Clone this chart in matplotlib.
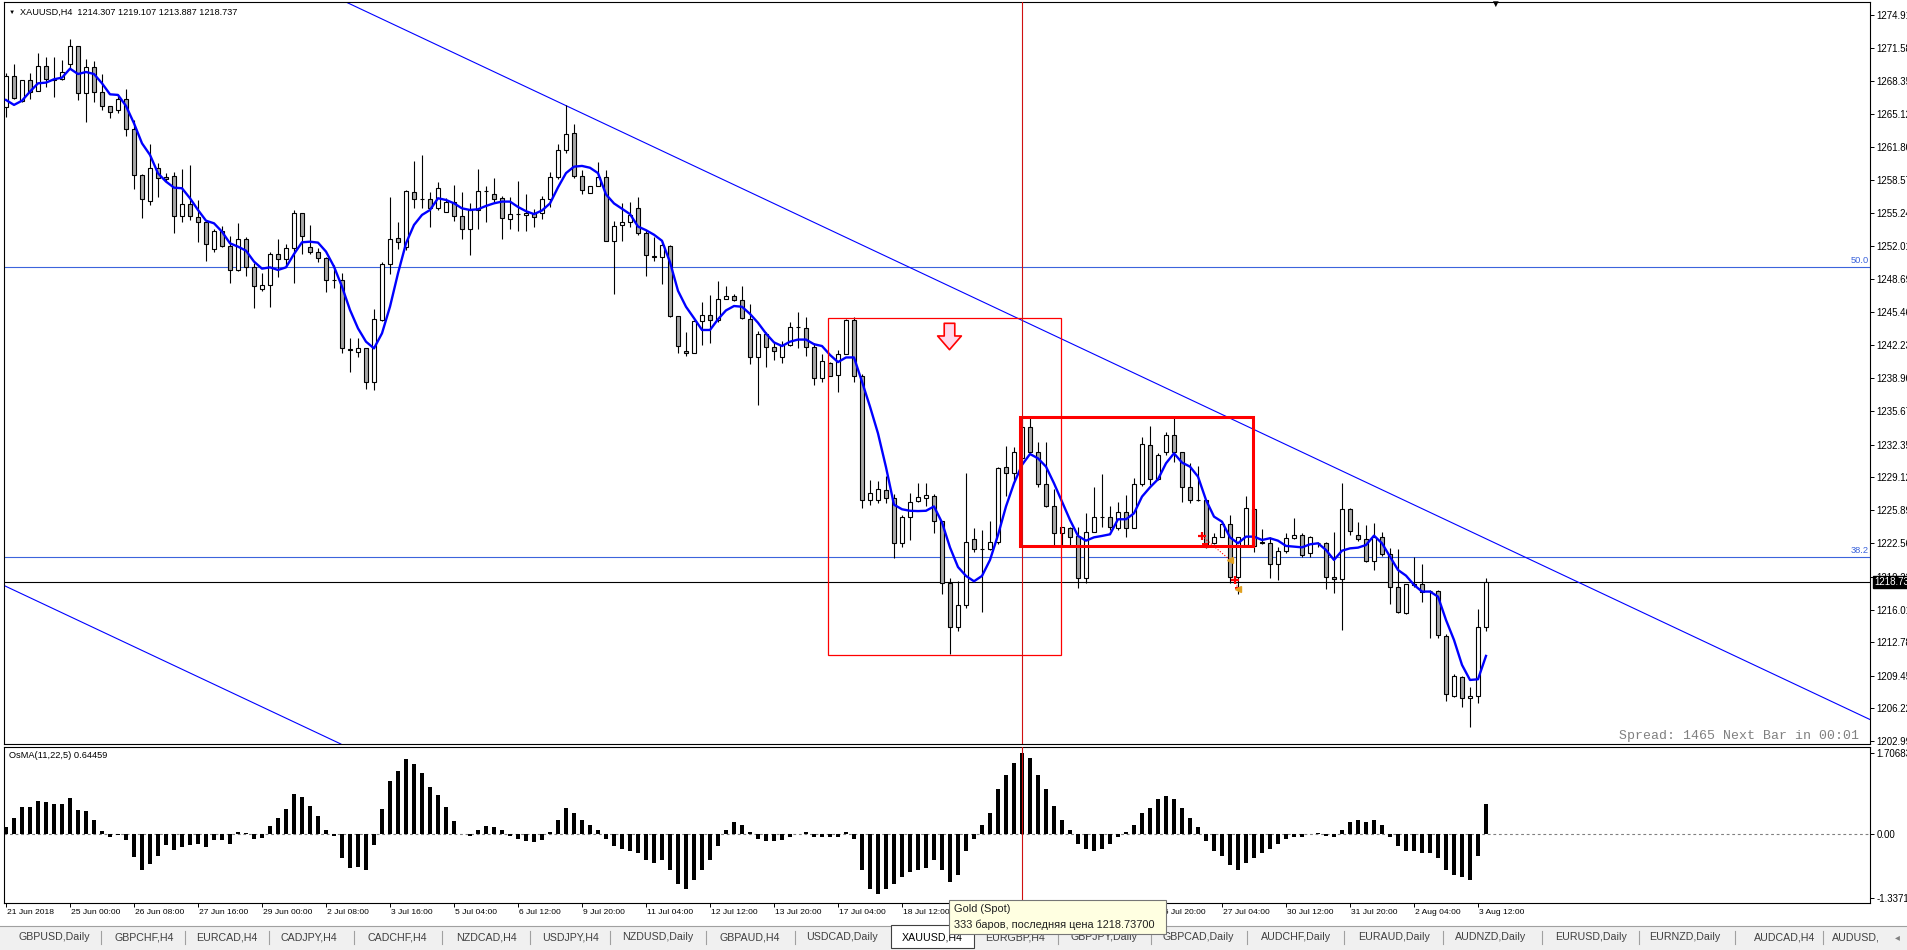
import matplotlib
matplotlib.use("Agg")
import matplotlib.pyplot as plt
import numpy as np
from matplotlib.path import Path
from matplotlib.patches import Rectangle
from matplotlib.lines import Line2D
from matplotlib.transforms import ScaledTranslation, blended_transform_factory

plt.rcParams['font.family'] = ['Liberation Sans', 'DejaVu Sans']

# ---- XAUUSD H4 candles (21 Jun 16:00 .. 3 Aug 16:00) ----
opens = [
    1265.73, 1268.84, 1266.39, 1268.44, 1267.32, 1269.83, 1268.51, 1268.51, 1269.99, 1271.81,
    1267.12, 1269.69, 1267.22, 1265.83, 1265.44, 1266.53, 1263.56, 1259.00, 1256.43, 1259.70,
    1258.87, 1258.94, 1254.98, 1256.16, 1254.91, 1254.35, 1251.68, 1253.49, 1252.01, 1249.63,
    1252.67, 1249.96, 1247.72, 1248.11, 1251.18, 1250.69, 1251.78, 1255.27, 1251.87, 1251.38,
    1250.79, 1248.64, 1248.64, 1241.78, 1241.48, 1241.87, 1238.51, 1244.68, 1250.19, 1252.76,
    1251.94, 1257.32, 1256.66, 1256.63, 1255.80, 1255.40, 1256.33, 1255.01, 1253.66, 1255.57,
    1257.45, 1257.12, 1256.72, 1254.71, 1255.16, 1255.09, 1255.31, 1255.23, 1256.65, 1258.84,
    1261.52, 1263.21, 1258.98, 1257.28, 1257.99, 1258.87, 1252.52, 1254.10, 1254.35, 1255.80,
    1253.29, 1251.00, 1250.93, 1251.99, 1245.10, 1241.64, 1241.43, 1244.57, 1245.17, 1244.68,
    1246.80, 1247.05, 1246.62, 1244.82, 1240.97, 1243.34, 1242.03, 1240.97, 1242.21, 1243.97,
    1243.87, 1242.03, 1238.93, 1240.41, 1239.28, 1241.33, 1244.68, 1239.17, 1226.82, 1226.85,
    1227.88, 1227.10, 1222.58, 1225.16, 1226.75, 1227.10, 1227.28, 1224.81, 1218.63, 1214.29,
    1216.51, 1223.04, 1221.98, 1221.98, 1222.69, 1230.10, 1229.50, 1230.98, 1234.05, 1231.65,
    1228.41, 1226.30, 1223.56, 1224.05, 1223.30, 1219.11, 1223.72, 1225.21, 1225.14, 1224.12,
    1225.71, 1224.05, 1228.41, 1232.30, 1228.91, 1231.58, 1233.29, 1231.58, 1228.11, 1226.86,
    1226.86, 1222.57, 1223.23, 1224.45, 1219.27, 1222.40, 1225.97, 1222.74, 1222.64, 1220.49,
    1221.84, 1223.07, 1223.39, 1221.58, 1222.57, 1222.57, 1219.20, 1219.01, 1225.94, 1223.40,
    1222.97, 1220.82, 1223.23, 1221.51, 1218.21, 1215.64, 1218.51, 1218.51, 1217.85, 1217.88,
    1213.43, 1207.46, 1209.30, 1207.29, 1207.46, 1214.307,
]
highs = [
    1269.10, 1270.02, 1268.44, 1269.10, 1271.15, 1270.75, 1270.75, 1270.42, 1272.50, 1271.81,
    1270.49, 1270.32, 1269.00, 1265.83, 1266.96, 1267.52, 1264.48, 1259.13, 1262.07, 1260.19,
    1259.20, 1259.37, 1259.63, 1260.03, 1256.56, 1254.58, 1253.69, 1253.99, 1252.99, 1254.32,
    1252.86, 1250.29, 1249.30, 1251.45, 1252.67, 1252.17, 1255.57, 1255.27, 1254.09, 1251.78,
    1250.95, 1250.13, 1249.30, 1242.87, 1242.87, 1241.87, 1245.74, 1250.46, 1256.89, 1254.35,
    1257.55, 1260.42, 1261.02, 1257.39, 1258.38, 1256.73, 1258.05, 1257.32, 1256.23, 1259.60,
    1257.95, 1258.71, 1257.00, 1256.86, 1258.41, 1257.18, 1255.69, 1257.00, 1259.33, 1262.08,
    1265.93, 1264.09, 1259.54, 1257.99, 1260.28, 1259.54, 1254.46, 1256.29, 1256.33, 1256.86,
    1253.58, 1252.94, 1252.52, 1252.06, 1245.10, 1243.52, 1244.64, 1246.41, 1247.12, 1248.56,
    1248.00, 1247.22, 1248.03, 1246.27, 1243.59, 1243.52, 1242.46, 1242.56, 1244.50, 1245.46,
    1244.93, 1242.39, 1241.33, 1240.51, 1241.68, 1244.75, 1244.93, 1239.35, 1228.87, 1228.76,
    1229.22, 1227.45, 1225.34, 1227.52, 1228.51, 1228.51, 1227.45, 1224.81, 1219.16, 1218.81,
    1229.57, 1224.10, 1223.92, 1224.74, 1230.17, 1232.22, 1232.14, 1234.95, 1235.04, 1232.63,
    1232.57, 1227.95, 1224.22, 1224.22, 1224.22, 1225.54, 1228.11, 1229.43, 1226.27, 1226.70,
    1227.36, 1229.01, 1233.13, 1234.19, 1231.55, 1233.56, 1235.04, 1231.65, 1230.56, 1230.23,
    1226.86, 1223.56, 1224.71, 1225.38, 1223.23, 1227.29, 1225.97, 1223.99, 1223.23, 1222.24,
    1223.56, 1225.05, 1223.56, 1223.30, 1222.74, 1222.74, 1223.66, 1228.51, 1226.04, 1224.71,
    1224.38, 1224.62, 1223.72, 1222.07, 1221.98, 1218.51, 1221.18, 1220.52, 1217.95, 1217.95,
    1213.56, 1209.63, 1209.44, 1208.38, 1216.04, 1219.107,
]
lows = [
    1264.74, 1266.56, 1266.30, 1266.56, 1267.32, 1267.71, 1266.79, 1268.44, 1269.60, 1266.46,
    1264.32, 1266.30, 1265.47, 1264.64, 1265.14, 1262.90, 1257.62, 1254.75, 1256.06, 1256.89,
    1258.38, 1253.26, 1254.42, 1254.58, 1252.43, 1250.55, 1251.45, 1251.94, 1248.31, 1249.50,
    1249.04, 1245.83, 1247.58, 1246.00, 1248.97, 1250.03, 1248.38, 1251.21, 1251.21, 1250.39,
    1247.48, 1247.82, 1241.38, 1239.56, 1240.98, 1237.85, 1237.75, 1244.58, 1249.23, 1251.71,
    1251.61, 1255.73, 1255.73, 1253.92, 1255.57, 1255.40, 1254.48, 1252.70, 1251.11, 1253.66,
    1254.42, 1256.23, 1252.69, 1253.68, 1253.51, 1253.47, 1253.93, 1254.63, 1255.87, 1258.62,
    1261.17, 1258.76, 1257.11, 1257.21, 1257.99, 1252.48, 1247.22, 1252.48, 1253.93, 1253.05,
    1248.99, 1250.50, 1248.21, 1244.93, 1241.40, 1241.15, 1241.40, 1242.17, 1242.39, 1244.50,
    1246.76, 1246.52, 1244.75, 1240.34, 1236.28, 1239.99, 1240.69, 1240.44, 1242.10, 1241.93,
    1241.11, 1238.29, 1238.57, 1239.10, 1237.51, 1241.33, 1238.57, 1226.11, 1226.40, 1226.57,
    1226.57, 1221.10, 1222.16, 1222.86, 1226.68, 1226.22, 1223.57, 1217.57, 1211.64, 1213.93,
    1216.16, 1221.70, 1215.73, 1221.91, 1222.51, 1227.28, 1228.84, 1230.89, 1231.48, 1228.11,
    1226.20, 1222.40, 1222.40, 1222.40, 1218.12, 1218.61, 1223.66, 1224.22, 1223.89, 1223.89,
    1223.16, 1224.05, 1228.25, 1228.35, 1228.84, 1231.32, 1230.66, 1226.70, 1226.60, 1226.79,
    1222.10, 1222.50, 1223.16, 1218.61, 1217.55, 1222.34, 1221.75, 1222.50, 1219.11, 1218.94,
    1221.58, 1222.97, 1221.25, 1221.25, 1222.24, 1218.02, 1217.69, 1213.99, 1223.40, 1222.83,
    1220.69, 1219.93, 1221.35, 1216.56, 1215.64, 1215.54, 1218.21, 1216.79, 1213.17, 1213.17,
    1207.00, 1207.39, 1206.40, 1204.42, 1206.80, 1213.887,
]
closes = [
    1268.84, 1266.69, 1268.44, 1267.29, 1269.83, 1268.51, 1268.45, 1269.23, 1271.81, 1267.12,
    1269.69, 1267.22, 1265.83, 1265.24, 1266.56, 1263.56, 1259.00, 1256.63, 1259.70, 1258.71,
    1258.61, 1254.98, 1256.16, 1254.98, 1254.35, 1252.17, 1253.49, 1252.01, 1249.63, 1252.67,
    1249.96, 1248.05, 1248.11, 1251.18, 1250.69, 1251.78, 1255.27, 1252.99, 1251.38, 1250.79,
    1248.64, 1248.60, 1241.87, 1241.75, 1241.87, 1238.51, 1244.75, 1250.19, 1252.67, 1252.37,
    1257.45, 1256.66, 1256.63, 1255.80, 1257.72, 1256.33, 1255.01, 1253.66, 1255.57, 1257.42,
    1257.42, 1256.66, 1254.81, 1255.16, 1255.13, 1255.23, 1254.92, 1256.65, 1258.84, 1261.52,
    1263.07, 1258.98, 1257.56, 1257.99, 1258.87, 1252.52, 1254.03, 1254.35, 1255.09, 1253.29,
    1251.10, 1250.96, 1252.06, 1245.10, 1242.10, 1241.43, 1244.57, 1245.14, 1244.68, 1246.80,
    1247.05, 1246.69, 1244.86, 1240.97, 1243.34, 1242.03, 1241.64, 1242.21, 1243.97, 1243.95,
    1242.03, 1238.93, 1240.59, 1239.17, 1241.33, 1244.68, 1239.17, 1226.82, 1227.52, 1227.98,
    1227.10, 1222.58, 1225.16, 1226.68, 1227.17, 1227.38, 1224.81, 1218.63, 1214.29, 1216.51,
    1222.69, 1222.05, 1221.96, 1222.69, 1229.99, 1229.57, 1231.65, 1234.05, 1231.65, 1228.41,
    1226.30, 1223.56, 1224.22, 1223.23, 1219.11, 1223.72, 1225.21, 1225.18, 1224.22, 1225.71,
    1224.05, 1228.41, 1232.37, 1228.91, 1231.32, 1233.29, 1231.58, 1228.11, 1226.86, 1226.83,
    1222.24, 1223.23, 1224.45, 1219.27, 1223.16, 1226.04, 1222.34, 1222.57, 1220.49, 1221.84,
    1223.07, 1223.39, 1221.42, 1223.23, 1222.57, 1219.20, 1219.01, 1225.94, 1223.79, 1222.97,
    1220.82, 1223.23, 1221.51, 1218.21, 1215.74, 1218.51, 1218.48, 1217.79, 1217.82, 1213.50,
    1207.62, 1209.44, 1207.29, 1207.46, 1214.32, 1218.737,
]
# blue moving average as drawn on the chart
ma_line = [
    1266.46, 1265.97, 1266.39, 1267.29, 1268.11, 1268.18, 1268.51, 1268.67, 1269.56, 1269.03,
    1269.23, 1269.03, 1268.11, 1267.02, 1266.96, 1265.87, 1264.15, 1262.17, 1261.02, 1259.20,
    1258.38, 1257.78, 1257.72, 1256.73, 1255.57, 1254.51, 1254.25, 1253.42, 1252.27, 1251.94,
    1251.54, 1250.46, 1249.76, 1249.89, 1249.63, 1249.89, 1251.21, 1252.37, 1252.43, 1252.34,
    1251.45, 1249.96, 1247.98, 1245.67, 1243.85, 1242.53, 1241.87, 1243.36, 1246.00, 1249.30,
    1252.27, 1254.09, 1255.08, 1255.57, 1256.73, 1256.56, 1256.23, 1255.73, 1255.57, 1255.64,
    1255.97, 1256.23, 1256.40, 1256.40, 1255.87, 1255.45, 1255.16, 1255.52, 1256.22, 1257.81,
    1259.22, 1259.86, 1259.93, 1259.75, 1259.22, 1257.11, 1256.22, 1255.69, 1255.16, 1253.93,
    1253.57, 1253.12, 1252.52, 1250.40, 1247.57, 1245.99, 1244.86, 1243.69, 1243.69, 1244.75,
    1245.63, 1246.06, 1245.99, 1245.28, 1244.40, 1243.34, 1242.46, 1242.10, 1242.53, 1242.74,
    1242.74, 1242.28, 1242.10, 1241.22, 1240.51, 1240.97, 1240.97, 1238.57, 1236.10, 1233.45,
    1230.10, 1226.39, 1225.94, 1225.79, 1225.76, 1225.79, 1226.22, 1224.63, 1222.16, 1220.22,
    1219.34, 1218.81, 1219.34, 1220.92, 1223.39, 1226.22, 1228.51, 1230.33, 1231.41, 1230.98,
    1230.16, 1228.51, 1226.70, 1224.88, 1223.30, 1222.83, 1223.16, 1223.30, 1223.46, 1224.95,
    1224.95, 1225.54, 1227.19, 1228.11, 1228.91, 1230.49, 1231.48, 1230.56, 1230.16, 1229.17,
    1226.86, 1225.21, 1224.71, 1223.16, 1222.57, 1223.23, 1223.23, 1222.90, 1223.07, 1222.83,
    1222.31, 1222.24, 1222.17, 1222.47, 1222.57, 1221.91, 1220.92, 1221.84, 1222.07, 1222.14,
    1222.40, 1223.33, 1222.57, 1221.25, 1219.93, 1219.37, 1218.45, 1217.79, 1217.79, 1217.29,
    1214.98, 1213.00, 1210.53, 1209.04, 1209.11, 1211.42,
]
# OsMA(11,22,5) histogram
osma = [
    0.15, 0.34, 0.57, 0.57, 0.70, 0.68, 0.64, 0.64, 0.76, 0.51,
    0.49, 0.30, 0.07, -0.05, -0.01, -0.13, -0.47, -0.76, -0.62, -0.45,
    -0.22, -0.32, -0.27, -0.23, -0.21, -0.26, -0.13, -0.11, -0.20, 0.04,
    0.02, -0.09, -0.07, 0.17, 0.34, 0.53, 0.85, 0.78, 0.60, 0.38,
    0.09, -0.03, -0.49, -0.70, -0.69, -0.76, -0.22, 0.53, 1.12, 1.33,
    1.58, 1.48, 1.29, 0.99, 0.83, 0.57, 0.28, 0.01, -0.04, 0.08,
    0.17, 0.16, 0.10, -0.03, -0.10, -0.15, -0.17, -0.12, 0.05, 0.30,
    0.55, 0.45, 0.30, 0.20, 0.10, -0.10, -0.25, -0.30, -0.35, -0.40,
    -0.55, -0.60, -0.55, -0.75, -1.05, -1.15, -0.95, -0.75, -0.55, -0.25,
    0.10, 0.25, 0.20, 0.05, -0.10, -0.15, -0.15, -0.12, -0.05, 0.00,
    0.05, -0.05, -0.05, -0.05, -0.05, 0.05, -0.10, -0.75, -1.15, -1.25,
    -1.15, -1.05, -0.90, -0.80, -0.75, -0.70, -0.55, -0.75, -1.00, -0.85,
    -0.35, -0.10, 0.20, 0.45, 0.95, 1.25, 1.50, 1.70683, 1.60, 1.25,
    0.95, 0.60, 0.30, 0.10, -0.20, -0.30, -0.35, -0.30, -0.20, -0.05,
    0.05, 0.20, 0.45, 0.55, 0.75, 0.80, 0.75, 0.55, 0.35, 0.15,
    -0.15, -0.35, -0.45, -0.65, -0.75, -0.60, -0.50, -0.40, -0.30, -0.20,
    -0.10, -0.05, -0.05, 0.00, 0.02, -0.03, -0.05, 0.10, 0.25, 0.30,
    0.25, 0.30, 0.20, -0.05, -0.25, -0.35, -0.35, -0.40, -0.40, -0.50,
    -0.75, -0.85, -0.90, -0.95, -0.45, 0.64459,
]
time_labels = [
    "21 Jun 2018", "25 Jun 00:00", "26 Jun 08:00", "27 Jun 16:00", "29 Jun 00:00",
    "2 Jul 08:00", "3 Jul 16:00", "5 Jul 04:00", "6 Jul 12:00", "9 Jul 20:00",
    "11 Jul 04:00", "12 Jul 12:00", "13 Jul 20:00", "17 Jul 04:00", "18 Jul 12:00",
    "19 Jul 20:00", "23 Jul 04:00", "24 Jul 12:00", "25 Jul 20:00", "27 Jul 04:00",
    "30 Jul 12:00", "31 Jul 20:00", "2 Aug 04:00", "3 Aug 12:00",
]
price_ticks = [1274.91, 1271.58, 1268.35, 1265.12, 1261.80, 1258.57, 1255.24, 1252.01,
               1248.69, 1245.46, 1242.23, 1238.90, 1235.67, 1232.35, 1229.12, 1225.89,
               1222.56, 1219.22, 1216.01, 1212.78, 1209.45, 1206.22, 1202.99]
osma_ticks = [1.70683, 0.0, -1.33718]
osma_tick_labels = ["1.70683", "0.00", "-1.33718"]

# chart objects
fib_levels = [1249.92, 1221.23]
fib_names = ["50.0", "38.2"]
trend_bars = [70, 185]
trend_prices = [1265.90, 1223.02]
channel_bars = [0, 41]
channel_prices = [1218.30, 1203.02]
box_thin = (102.8, 131.9, 1211.55, 1244.92)    # bar0, bar1, low, high
box_thick = (126.8, 155.9, 1222.33, 1235.10)
arrow_at = (117.9, 1243.09)
vline_bar = 127
last_price = 1218.737
trade_open_bars = [149.5, 153.6]
trade_open_prices = [1223.29, 1218.94]
trade_close_bars = [153.0, 154.0]
trade_close_prices = [1220.92, 1218.05]

tabs = ["GBPUSD,Daily", "GBPCHF,H4", "EURCAD,H4", "CADJPY,H4", "CADCHF,H4", "NZDCAD,H4",
        "USDJPY,H4", "NZDUSD,Daily", "GBPAUD,H4", "USDCAD,Daily", "XAUUSD,H4", "EURGBP,H4",
        "GBPJPY,Daily", "GBPCAD,Daily", "AUDCHF,Daily", "EURAUD,Daily", "AUDNZD,Daily",
        "EURUSD,Daily", "EURNZD,Daily", "AUDCAD,H4"]
tab_centers = [54, 144, 227, 309, 397, 487, 571, 658, 750, 842, 932, 1015, 1104, 1198,
               1296, 1394, 1491, 1591, 1685, 1785]
tab_seps = [101, 185, 269, 354, 442, 530, 610, 706, 795, 1058, 1151, 1247, 1344, 1443,
            1542, 1639, 1735, 1823]

W, H = 1908, 950
fig = plt.figure(figsize=(W / 100, H / 100), dpi=100)
fig.patch.set_facecolor("white")


def fx(x):
    return x / W


def fy(y):
    return 1 - y / H


ax = fig.add_axes([fx(4), fy(744), (1870 - 4) / W, (744 - 2) / H])
ax2 = fig.add_axes([fx(4), fy(903), (1870 - 4) / W, (903 - 747) / H])

idx = np.arange(len(opens))
o = np.array(opens)
h = np.array(highs)
l = np.array(lows)
c = np.array(closes)
up = c >= o

# ---- main chart ----
ax.vlines(idx, l, h, color="black", lw=0.8, zorder=3)
ax.bar(idx, np.abs(c - o), bottom=np.minimum(o, c), width=0.62,
       color=np.where(up, "white", "#a8a8a8"), edgecolor="black", linewidth=0.8, zorder=4)
ax.plot(idx, ma_line, color="#0000ff", lw=1.7, zorder=5)

for lev, name in zip(fib_levels, fib_names):
    ax.axhline(lev, color="#3c64dc", lw=0.8, zorder=2)
    ax.annotate(name, xy=(1.0, lev), xycoords=("axes fraction", "data"),
                xytext=(-1, 1.5), textcoords="offset points", ha="right", va="bottom",
                fontsize=6.7, color="#3c64dc")

ax.axhline(last_price, color="black", lw=0.8, zorder=2)
ax.axline((trend_bars[0], trend_prices[0]), (trend_bars[1], trend_prices[1]),
          color="#0000ff", lw=0.8, zorder=2)
ax.axline((channel_bars[0], channel_prices[0]), (channel_bars[1], channel_prices[1]),
          color="#0000ff", lw=0.8, zorder=2)

ax.add_patch(Rectangle((box_thin[0], box_thin[2]), box_thin[1] - box_thin[0],
                       box_thin[3] - box_thin[2], fill=False, edgecolor="#ff0000", lw=0.9, zorder=6))
ax.add_patch(Rectangle((box_thick[0], box_thick[2]), box_thick[1] - box_thick[0],
                       box_thick[3] - box_thick[2], fill=False, edgecolor="#ff0000", lw=2.2, zorder=6))

arrow_path = Path([(-0.2, 0.5), (0.2, 0.5), (0.2, 0.02), (0.45, 0.02), (0.0, -0.5),
                   (-0.45, 0.02), (-0.2, 0.02), (-0.2, 0.5)], closed=True)
ax.plot([arrow_at[0]], [arrow_at[1]], marker=arrow_path, ms=19, mfc="#ffd8ec",
        mec="#ff0000", mew=1.2, zorder=7)

ax.axvline(vline_bar, color="#d01010", lw=0.8, zorder=6)
ax2.axvline(vline_bar, color="#d01010", lw=0.8, zorder=6)

for ob, op, cb, cp in zip(trade_open_bars, trade_open_prices, trade_close_bars, trade_close_prices):
    ax.plot([ob, cb], [op, cp], ls=":", color="#ff0000", lw=0.8, zorder=7)
    ax.plot([ob], [op], marker="+", color="#ff0000", ms=6, mew=1.6, zorder=8)
    ax.plot([ob + 0.4], [op - 0.8], marker="_", color="#ff0000", ms=5, mew=1.4, zorder=8)
    ax.plot([cb], [cp], marker="<", color="#e0a020", ms=5, zorder=8)

ax.set_xlim(-0.25, 233.0)
ax.set_ylim(1202.70, 1276.16)
ax.set_xticks([])
ax.yaxis.tick_right()
ax.set_yticks(price_ticks)
ax.set_yticklabels([f"{v:.2f}" for v in price_ticks])
ax.tick_params(axis="y", length=3, width=0.7, pad=1.5, labelsize=7, direction="out")
for sp in ax.spines.values():
    sp.set_linewidth(0.8)
    sp.set_color("black")

ax.text(0.0, 1.0, "XAUUSD,H4  1214.307 1219.107 1213.887 1218.737",
        transform=ax.transAxes + ScaledTranslation(16 / 100, -10 / 100, fig.dpi_scale_trans),
        ha="left", va="center", fontsize=6.6)
fig.text(fx(12), fy(12), "▼", ha="center", va="center", fontsize=4.5, color="black")
fig.text(fx(1495), fy(4), "▼", ha="center", va="center", fontsize=7, color="black")

ax.text(1.0, 0.0, "Spread: 1465 Next Bar in 00:01",
        transform=ax.transAxes + ScaledTranslation(-11 / 100, 8 / 100, fig.dpi_scale_trans),
        ha="right", va="center", fontsize=9.5, family="Liberation Mono", color="#808080")

ax.text(1.0, last_price, "1218.73",
        transform=blended_transform_factory(ax.transAxes, ax.transData)
        + ScaledTranslation(4 / 100, 0, fig.dpi_scale_trans),
        ha="left", va="center", fontsize=7, color="white", zorder=10, clip_on=False,
        bbox=dict(boxstyle="square,pad=0.15", facecolor="black", edgecolor="black"))

# ---- OsMA panel ----
ax2.bar(idx, osma, width=0.38, color="black", zorder=3)
ax2.axhline(0, color="#808080", lw=0.8, ls=(0, (2.5, 2.5)), zorder=2)
ax2.set_xlim(-0.25, 233.0)
ax2.set_ylim(-1.443, 1.834)
ax2.yaxis.tick_right()
ax2.set_yticks(osma_ticks)
ax2.set_yticklabels(osma_tick_labels)
ax2.tick_params(axis="y", length=3, width=0.7, pad=1.5, labelsize=7, direction="out")
ax2.set_xticks(np.arange(0, len(opens), 8))
ax2.set_xticklabels(time_labels, ha="left")
ax2.tick_params(axis="x", length=3, width=0.7, pad=1.0, labelsize=6.1, direction="out")
for lab in ax2.get_xticklabels():
    lab.set_transform(lab.get_transform() + ScaledTranslation(1.5 / 100, 0, fig.dpi_scale_trans))
for sp in ax2.spines.values():
    sp.set_linewidth(0.8)
    sp.set_color("black")
ax2.text(0.0, 1.0, "OsMA(11,22,5) 0.64459",
         transform=ax2.transAxes + ScaledTranslation(5 / 100, -8 / 100, fig.dpi_scale_trans),
         ha="left", va="center", fontsize=6.7)

# ---- tab bar ----
fig.add_artist(Rectangle((0, 0), 1, (H - 926) / H, transform=fig.transFigure,
                         facecolor="#f0f0f0", edgecolor="none", zorder=1))
fig.add_artist(Line2D([0, 1], [fy(926), fy(926)], transform=fig.transFigure,
                      color="#a0a0a0", lw=0.8, zorder=1))
fig.add_artist(Rectangle((fx(891), fy(948)), (974 - 891) / W, (948 - 925) / H,
                         transform=fig.transFigure, facecolor="white",
                         edgecolor="#404040", lw=0.8, zorder=2))
for s in tab_seps:
    fig.add_artist(Line2D([fx(s), fx(s)], [fy(931), fy(944)], transform=fig.transFigure,
                          color="#a0a0a0", lw=0.8, zorder=2))
for name, cx in zip(tabs, tab_centers):
    fig.text(fx(cx), fy(937), name, ha="center", va="center", fontsize=7.7,
             color="black" if name == "XAUUSD,H4" else "#404040", zorder=3)
fig.text(fx(1832), fy(937), "AUDUSD,", ha="left", va="center", fontsize=7.7, color="#404040", zorder=3)
fig.text(fx(1897), fy(937), "◂", ha="center", va="center", fontsize=7, color="#808080", zorder=3)

# ---- tooltip ----
fig.add_artist(Rectangle((fx(949), fy(934)), (1166 - 949) / W, (934 - 900) / H,
                         transform=fig.transFigure, facecolor="#ffffe1",
                         edgecolor="#767676", lw=0.8, zorder=5))
fig.text(fx(954), fy(909), "Gold (Spot)", ha="left", va="center", fontsize=7.9,
         color="#202020", zorder=6)
fig.text(fx(954), fy(925), "333 баров, последняя цена 1218.73700", ha="left", va="center",
         fontsize=7.9, color="#202020", zorder=6)

fig.savefig("out.png", dpi=100)
